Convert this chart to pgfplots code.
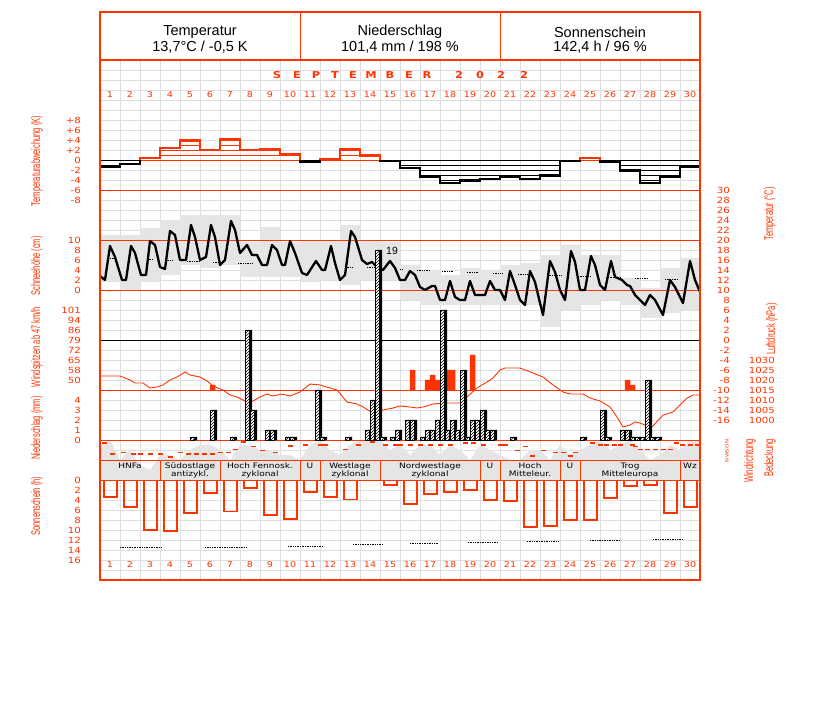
\documentclass[border=0pt]{standalone}
\usepackage{fontspec}
\setmainfont{Liberation Sans}
\newfontfamily\pix[FakeStretch=1.2]{DejaVu Sans}
\newfontfamily\narrow[FakeStretch=0.6]{Liberation Sans}
\usepackage{pgfplots}
\pgfplotsset{compat=1.18}
\usetikzlibrary{patterns}

\definecolor{wred}{RGB}{255,51,0}
\definecolor{gridgray}{RGB}{222,222,222}
\definecolor{boxgray}{RGB}{229,229,229}

\pgfplotsset{
  panel/.style={scale only axis, width=600pt, xmin=0, xmax=30, anchor=south west,
    axis line style={draw=none}, major tick length=0pt, xtick=\empty, ytick=\empty,
    tick label style={font=\pix\fontsize{8.5}{9}\selectfont, text=wred, inner sep=0pt}},
  leftticks/.style={ytick pos=left, yticklabel pos=left, yticklabel style={anchor=east, xshift=-19pt}},
  rightticks/.style={ytick pos=right, yticklabel pos=right, yticklabel style={anchor=east, xshift=#1}},
}

\begin{document}
\begin{tikzpicture}
\path[use as bounding box] (0pt,0pt) rectangle (827pt,702pt);

% grid
\begin{axis}[panel, at={(100pt,122pt)}, height=520pt, ymin=0, ymax=52,
  xtick={0,...,30}, ytick={0,...,52}, xticklabels={}, yticklabels={},
  grid=major, grid style={gridgray, line width=0.8pt}]
\addplot[draw=none] coordinates {(0,0)};
\end{axis}

% cloud cover (octas)
\begin{axis}[panel, at={(100pt,222pt)}, height=40pt, ymin=0, ymax=8]
\addplot[fill=boxgray, draw=none] coordinates {
(0,7)(0.5,8)(1,4)(1.5,6)(2,3)(2.5,2)(3,5)(3.5,5)(4,4)(4.5,6)(5,7)(5.5,7)(6,6)(6.5,4)
(7,7)(7.5,7)(8,6)(8.5,6)(9,5)(9.5,5)(10,4)(10.5,7)(11,8)(11.5,6)(12,5)(12.5,7)(13,8)
(13.5,8)(14,8)(14.5,6)(15,7)(15.5,5)(16,7)(16.5,7)(17,5)(17.5,7)(18,6)(18.5,4)(19,7)
(19.5,6)(20,5)(20.5,4)(21,4)(21.5,6)(22,6)(22.5,4)(23,7)(23.5,5)(24,6)(24.5,7)(25,8)
(25.5,6)(26,7)(26.5,8)(27,6)(27.5,4)(28,5)(28.5,7)(29,6)(29.5,8)(30,8)} \closedcycle;
\end{axis}

% daily temperature range boxes (min, max-min)
\begin{axis}[panel, at={(100pt,277pt)}, height=240pt, ymin=-17, ymax=31, ybar stacked, bar width=1]
\addplot[draw=none, fill=none, bar shift=-0.5] coordinates {
(1,11.6)(2,10)(3,11.6)(4,13)(5,15)(6,14.4)(7,15)(8,12.6)(9,12.6)(10,12.6)
(11,11.6)(12,12)(13,11)(14,12)(15,12)(16,8)(17,7)(18,7)(19,7)(20,7)
(21,7)(22,7)(23,2.6)(24,6)(25,7)(26,8)(27,7)(28,4.4)(29,5.4)(30,6)};
\addplot[draw=none, fill=boxgray, bar shift=-0.5] coordinates {
(1,9.4)(2,11)(3,10.8)(4,11)(5,10)(6,10.6)(7,10)(8,7)(9,10)(10,7)
(11,8.4)(12,8)(13,12)(14,8)(15,7.6)(16,7)(17,7)(18,6)(19,7.4)(20,7)
(21,8)(22,8.4)(23,14.4)(24,13)(25,10)(26,9)(27,5.4)(28,6)(29,9)(30,10.4)};
\end{axis}

% reference lines
\begin{scope}[x=1pt,y=1pt]
\foreach \yy in {512,462,412,312,262,242,222} \draw[wred, line width=0.9pt] (100,\yy) -- (700,\yy);
\draw[black, line width=0.8pt] (100,362) -- (700,362);
\foreach \xx in {160,220,300,320,380,480,500,560,580,680} \draw[wred, line width=0.9pt] (\xx,242) -- (\xx,222);
\end{scope}

% temperature deviation (K)
\begin{axis}[panel, at={(100pt,497pt)}, height=105pt, ymin=-8.9, ymax=12.1, leftticks,
  ytick={-8,-6,...,8}, yticklabels={-8,-6,-4,-2,0,+2,+4,+6,+8}]
\addplot[wred, line width=0.7pt, unbounded coords=jump] coordinates {
(2,0)(10,0)(10,nan)(11,0)(14,0)(14,nan)(24,0)(25,0)(25,nan)
(3,1)(10,1)(10,nan)(12,1)(14,1)(14,nan)(3,2)(9,2)(9,nan)(12,2)(13,2)(13,nan)
(4,3)(5,3)(5,nan)(6,3)(7,3)(7,nan)(4,4)(5,4)(5,nan)(6,4)(7,4)};
\addplot[black, line width=0.7pt, unbounded coords=jump] coordinates {
(0,0)(2,0)(2,nan)(10,0)(11,0)(11,nan)(14,0)(24,0)(24,nan)(25,0)(30,0)(30,nan)
(0,-1)(1,-1)(1,nan)(15,-1)(23,-1)(23,nan)(26,-1)(30,-1)(30,nan)
(16,-2)(23,-2)(23,nan)(26,-2)(29,-2)(29,nan)(16,-3)(23,-3)(23,nan)(27,-3)(29,-3)(29,nan)
(17,-4)(19,-4)(19,nan)(27,-4)(28,-4)};
\addplot[black, line width=2.2pt, const plot] coordinates {(0,-1.2)(1,-0.7)(2,-0.7)(2,0)};
\addplot[wred, line width=2.2pt, const plot] coordinates {(2,0)(2,0.5)(3,2.5)(4,4.0)(5,2.1)(6,4.2)(7,2.1)(8,2.3)(9,1.3)(10,1.3)(10,0)};
\addplot[black, line width=2.2pt, const plot] coordinates {(10,0)(10,-0.3)(11,-0.3)(11,0)};
\addplot[wred, line width=2.2pt, const plot] coordinates {(11,0)(11,0.3)(12,2.2)(13,1.0)(14,1.0)(14,0)};
\addplot[black, line width=2.2pt, const plot] coordinates {(14,0)(14,-0.1)(15,-1.5)(16,-3.2)(17,-4.5)(18,-4.0)(19,-3.7)(20,-3.2)(21,-3.7)(22,-3.0)(23,-0.1)(24,-0.1)(24,0)};
\addplot[wred, line width=2.2pt, const plot] coordinates {(24,0)(24,0.5)(25,0.5)(25,0)};
\addplot[black, line width=2.2pt, const plot] coordinates {(25,0)(25,-0.3)(26,-2.0)(27,-4.5)(28,-3.3)(29,-1.2)(30,-1.2)(30,0)};
\end{axis}

% snow depth labels (cm)
\begin{axis}[panel, at={(100pt,277pt)}, height=240pt, ymin=-27, ymax=21, leftticks,
  ytick={0,2,...,10}, yticklabels={0,2,4,6,8,10}]
\addplot[draw=none] coordinates {(0,0)};
\end{axis}

% temperature (°C)
\begin{axis}[panel, at={(100pt,277pt)}, height=240pt, ymin=-17, ymax=31, rightticks=30pt,
  ytick={-16,-14,...,30},
  yticklabels={-16,-14,-12,-10,-8,-6,-4,-2,0,2,4,6,8,10,12,14,16,18,20,22,24,26,28,30}]
\addplot[black, densely dotted, line width=0.7pt, unbounded coords=jump] coordinates {
(0.5,16.4)(0.75,16.4)(0.75,nan)(2.35,16.2)(2.65,16.2)(2.65,nan)(3.25,16)(3.6,16)(3.6,nan)
(4.35,15.8)(5.0,15.8)(5.0,nan)(5.65,15.6)(6.0,15.6)(6.0,nan)(6.9,15.4)(7.6,15.4)(7.6,nan)
(12.25,14.6)(12.65,14.6)(12.65,nan)(13.35,14.6)(14.0,14.6)(14.0,nan)(15.0,14.2)(15.15,14.2)(15.15,nan)
(15.85,14)(16.5,14)(16.5,nan)(17.1,13.8)(17.65,13.8)(17.65,nan)(18.35,13.6)(18.9,13.6)(18.9,nan)
(19.65,13.4)(20.15,13.4)(20.15,nan)(20.9,13.2)(21.4,13.2)(21.4,nan)(22.35,13)(23.1,13)(23.1,nan)
(23.9,12.8)(24.5,12.8)(24.5,nan)(25.4,12.6)(26.0,12.6)(26.0,nan)(26.75,12.4)(27.4,12.4)(27.4,nan)
(28.25,12.2)(28.9,12.2)};
\addplot[black, line width=2.3pt, line join=round] coordinates {
(0,12.8)(0.25,12)(0.5,18.8)(0.75,16.6)(1.1,12)(1.3,12)(1.55,18.8)(1.75,17.4)(2.05,13)(2.3,13)
(2.5,19.8)(2.75,19)(3.0,14.6)(3.25,14.2)(3.5,21.8)(3.75,21)(4.0,16)(4.3,16)(4.55,23)(4.75,20.6)
(5.0,16)(5.3,16.6)(5.55,23)(5.75,20.6)(6.0,15)(6.25,16)(6.55,23.8)(6.75,22)(7.0,17.4)(7.35,19)
(7.6,17)(7.85,17)(8.1,15)(8.35,15)(8.6,19)(8.85,18)(9.1,15)(9.25,15)(9.5,19.8)(9.75,17.4)
(10.1,13.4)(10.35,13)(10.8,15.8)(11.1,14)(11.25,14)(11.55,18.8)(11.75,15.4)(12.0,12)(12.25,13)
(12.55,21.8)(12.75,20.6)(13.1,16)(13.35,15.2)(13.6,15.6)(13.85,14.6)(14.15,14)(14.5,15.8)
(14.75,14.4)(15.0,12)(15.25,12)(15.5,13.8)(15.75,13)(16.0,10.6)(16.25,10)(16.6,10.8)(16.75,10.8)
(17.0,8)(17.25,8)(17.5,11.8)(17.75,8.6)(18.0,8)(18.25,8)(18.5,11.8)(18.75,9)(19.0,9)(19.25,9)
(19.5,11.8)(19.75,10)(20.0,10)(20.25,8)(20.5,13.8)(20.75,11)(21.0,8)(21.25,7)(21.5,13.8)
(21.75,11.6)(22.0,7.4)(22.15,5)(22.5,15.8)(22.75,13.6)(23.0,10)(23.25,8)(23.55,17.8)(23.75,15.6)
(24.0,10)(24.25,10)(24.55,16.8)(24.75,15)(25.0,11)(25.25,10)(25.55,15.8)(25.75,12.6)(26.1,12)
(26.35,11)(26.5,10.8)(26.75,9)(27.0,8)(27.25,7)(27.5,9)(27.75,8)(28.15,5)(28.5,12)(28.75,10.6)
(29.0,8.6)(29.15,7.4)(29.5,15.8)(29.75,12)(30.0,9.6)};
\end{axis}

% wind gusts (m/s above 12, labelled in km/h), quarter days
\begin{axis}[panel, at={(100pt,307pt)}, height=90pt, xmin=0, xmax=120, ymin=-1, ymax=17, leftticks,
  ytick={2,4,...,16}, yticklabels={50,58,65,72,79,86,94,101}]
\addplot[ybar, bar width=1.1, bar shift=0.5, fill=wred, draw=none] coordinates {
(22,1)(62,4)(65,2)(66,3)(67,2)(69,4)(70,4)(74,7)(105,2)(106,1)};
\end{axis}

% air pressure (hPa)
\begin{axis}[panel, at={(100pt,262pt)}, height=85pt, ymin=990, ymax=1032.5, rightticks=75pt,
  ytick={1000,1005,...,1030}, yticklabels={1000,1005,1010,1015,1020,1025,1030}]
\addplot[wred, line width=0.9pt] coordinates {
(0,1022)(1,1022)(1.5,1020)(1.75,1018.5)(2.15,1018.5)(2.5,1016)(2.85,1016.5)(3.15,1017.5)
(3.5,1020)(3.85,1021.5)(4.25,1024)(4.5,1022.5)(5.0,1021.5)(5.35,1019.5)(5.65,1017)(6.15,1015)
(6.5,1012.5)(6.85,1011.5)(7.35,1009)(7.65,1009.5)(8.0,1011.5)(8.35,1013)(8.65,1012)(9.1,1013)
(9.5,1012)(10.0,1014)(10.5,1018)(11.0,1017.5)(11.5,1016)(11.85,1015)(12.35,1009)(12.85,1008)
(13.15,1006.5)(13.65,1003.5)(14.15,1005)(14.65,1006)(15.0,1007)(15.5,1006.5)(15.85,1006)
(16.15,1006.5)(16.65,1008)(17.15,1008.5)(17.65,1008.5)(18.1,1008.5)(18.35,1011.5)(18.85,1016)
(19.35,1019)(19.65,1021)(20.0,1025)(20.25,1026)(21.0,1026)(21.65,1023.5)(22.15,1021.5)
(22.65,1017.5)(23.15,1014)(23.5,1013)(24.15,1013)(24.5,1011)(25.0,1009.5)(25.5,1006.5)
(25.85,1001.5)(26.15,996.5)(26.5,997.5)(26.75,999)(27.0,998.5)(27.35,997)(27.6,996.5)
(28.15,1002.5)(28.65,1004)(29.35,1011)(29.65,1012.5)(30.0,1012.5)};
\end{axis}

% precipitation (mm), 6-hour bars
\begin{axis}[panel, at={(100pt,262pt)}, height=195pt, xmin=0, xmax=120, ymin=0, ymax=19.5, leftticks,
  ytick={0,1,2,3,4}, yticklabels={0,1,2,3,4}]
\addplot[ybar, bar width=0.9, bar shift=0.95, fill=black, draw=none] coordinates {
(18,0.3)(22,3)(26,0.3)(29,11)(30,3)(33,1)(34,1)(37,0.3)(38,0.3)(43,5)(44,0.3)(49,0.3)
(53,1)(54,4)(55,19)(56,0.3)(58,0.3)(59,1)(61,2)(62,2)(64,0.3)(65,1)(66,1)(67,2)(68,13)
(69,1)(70,2)(71,1)(72,7)(73,0.3)(74,2)(75,2)(76,3)(77,1)(78,1)(82,0.3)(96,0.3)(100,3)
(101,0.3)(104,1)(105,1)(106,0.3)(107,0.3)(108,0.3)(109,6)(110,0.3)(111,0.3)};
\addplot[ybar, bar width=0.8, bar shift=0.4, fill=white, draw=black, line width=0.4pt,
  postaction={pattern=north east lines}] coordinates {
(18,0.3)(22,3)(26,0.3)(29,11)(30,3)(33,1)(34,1)(37,0.3)(38,0.3)(43,5)(44,0.3)(49,0.3)
(53,1)(54,4)(55,19)(56,0.3)(58,0.3)(59,1)(61,2)(62,2)(64,0.3)(65,1)(66,1)(67,2)(68,13)
(69,1)(70,2)(71,1)(72,7)(73,0.3)(74,2)(75,2)(76,3)(77,1)(78,1)(82,0.3)(96,0.3)(100,3)
(101,0.3)(104,1)(105,1)(106,0.3)(107,0.3)(108,0.3)(109,6)(110,0.3)(111,0.3)};
\end{axis}

% wind direction
\begin{axis}[panel, at={(100pt,242pt)}, height=20pt, y dir=reverse, ymin=-30, ymax=390]
\addplot[only marks, mark=-, mark size=2.5pt, wred, line width=1.6pt] coordinates {
(0.2,30)(0.6,270)(1.15,230)(1.65,270)(2.0,270)(2.5,270)(3.0,270)(3.5,330)(4.0,230)(4.4,270)
(4.8,270)(5.2,270)(5.6,270)(6.0,230)(6.4,230)(6.75,170)(7.15,10)(7.65,110)(8.1,190)(8.75,230)
(9.5,90)(10.25,70)(11.0,70)(11.25,70)(12.25,170)(12.9,70)(13.6,10)(14.25,70)(14.75,70)
(15.0,70)(15.5,70)(16.0,70)(16.5,70)(17.0,70)(17.5,70)(18.25,30)(18.65,30)(19.15,70)(20.0,70)
(20.25,70)(20.85,190)(21.25,110)(21.6,310)(22.15,190)(22.75,230)(23.15,230)(23.5,310)
(23.75,230)(24.6,30)(25.0,70)(25.3,70)(25.7,70)(26.0,70)(26.6,70)(26.75,110)(27.0,170)
(27.35,170)(27.75,170)(28.15,170)(28.5,170)(28.8,30)(29.1,70)(29.5,70)(29.85,70)};
\end{axis}

% sunshine (h)
\begin{axis}[panel, at={(100pt,142pt)}, height=80pt, y dir=reverse, ymin=0, ymax=16, leftticks,
  ytick={0,2,...,16}, yticklabels={0,2,4,6,8,10,12,14,16}]
\addplot[black, densely dotted, line width=0.7pt, unbounded coords=jump] coordinates {
(1.0,13.4)(3.1,13.4)(3.1,nan)(5.25,13.4)(7.35,13.4)(7.35,nan)(9.4,13.2)(11.15,13.2)(11.15,nan)
(12.65,12.8)(14.1,12.8)(14.1,nan)(15.5,12.6)(16.9,12.6)(16.9,nan)(18.4,12.4)(19.85,12.4)(19.85,nan)
(21.35,12.2)(22.9,12.2)(22.9,nan)(24.5,12.0)(26.0,12.0)(26.0,nan)(27.65,11.8)(29.15,11.8)};
\addplot[ybar, bar width=0.65, bar shift=-0.48, fill=none, draw=wred, line width=1.5pt] coordinates {
(1,3.4)(2,5.4)(3,10)(4,10.2)(5,6.6)(6,2.6)(7,6.3)(8,1.6)(9,7)(10,7.8)(11,2.4)(12,3.4)(13,3.9)
(15,1)(16,4.8)(17,2.8)(18,2.4)(19,2)(20,4)(21,4.2)(22,9.4)(23,9.2)(24,8)(25,8)(26,3.6)
(27,1.2)(28,1)(29,6.6)(30,5.4)};
\end{axis}

\begin{scope}[x=1pt,y=1pt]
% frame and header
\draw[wred, line width=1.1pt] (100,122) rectangle (700,690);
\draw[wred, line width=1.1pt] (100,642) -- (700,642);
\draw[wred, line width=0.9pt] (300,642) -- (300,690) (500,642) -- (500,690);
\begin{scope}[font=\fontsize{14.5}{16}\selectfont]
\node at (200,670) {Temperatur};
\node at (200,655) {13,7°C / -0,5 K};
\node at (400,670) {Niederschlag};
\node at (400,655) {101,4 mm / 198 \%};
\node at (600,670) {Sonnenschein};
\node at (600,655) {142,4 h / 96 \%};
\end{scope}

\foreach \c/\x in {S/277,E/297,P/316,T/335,E/353,M/371,B/390,E/409,R/427,2/459,0/480,2/501,2/524}
  \node[text=wred, font=\pix\bfseries\fontsize{9.5}{10}\selectfont] at (\x,627) {\c};

\foreach \d in {1,...,30} {
  \node[text=wred, font=\pix\fontsize{8}{8.5}\selectfont] at ({90+20*\d},607) {\d};
  \node[text=wred, font=\pix\fontsize{8}{8.5}\selectfont] at ({90+20*\d},137) {\d};
}

% weather types
\begin{scope}[every node/.style={font=\pix\fontsize{7.5}{8}\selectfont, align=center, anchor=north, inner sep=0pt}]
\node at (130,239) {HNFa};
\node at (190,239) {Südostlage\\antizykl.};
\node at (260,239) {Hoch Fennosk.\\zyklonal};
\node at (310,239) {U};
\node at (350,239) {Westlage\\zyklonal};
\node at (430,239) {Nordwestlage\\zyklonal};
\node at (490,239) {U};
\node at (530,239) {Hoch\\Mitteleur.};
\node at (570,239) {U};
\node at (630,239) {Trog\\Mitteleuropa};
\node at (690,239) {Wz};
\end{scope}

\node[anchor=west, font=\fontsize{10.5}{11}\selectfont, inner sep=0pt] at (386,451) {19};

% side titles
\begin{scope}[every node/.style={text=wred, font=\narrow\fontsize{12.5}{13}\selectfont, rotate=90}]
\node at (37,541) {Temperaturabweichung (K)};
\node at (37,436) {Schneehöhe (cm)};
\node at (37,355) {Windspitzen ab 47 km/h};
\node at (37,274) {Niederschlag (mm)};
\node at (37,196) {Sonnenschein (h)};
\node at (770,488) {Temperatur (°C)};
\node at (772,373) {Luftdruck (hPa)};
\node at (750,241) {Windrichtung};
\node at (770,244) {Bedeckung};
\end{scope}
\foreach \l/\p in {N/441,O/446,S/451,W/455,N/460}
  \node[text=wred, rotate=90, font=\pix\fontsize{4.5}{5}\selectfont, inner sep=0pt] at (727,702-\p) {\l};
\end{scope}
\end{tikzpicture}
\end{document}
